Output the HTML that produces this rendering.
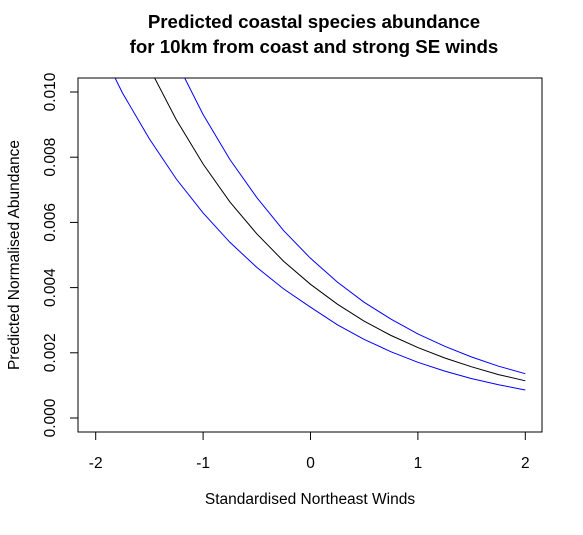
<!DOCTYPE html>
<html><head><meta charset="utf-8"><style>
body{margin:0;background:#fff}
svg text{font-family:"Liberation Sans",Arial,sans-serif}
</style></head><body>
<svg width="583" height="530" viewBox="0 0 583 530">
<defs><clipPath id="pc"><rect x="78" y="78" width="464" height="354"/></clipPath></defs>
<text x="314" y="28" text-anchor="middle" font-size="18.7" font-weight="bold">Predicted coastal species abundance</text>
<text x="314" y="53" text-anchor="middle" font-size="18.7" font-weight="bold">for 10km from coast and strong SE winds</text>
<rect x="78" y="78" width="464" height="354" fill="none" stroke="#000" stroke-width="1"/>
<g id="axes"></g>
<g id="series" clip-path="url(#pc)"></g>
<text x="310" y="504" text-anchor="middle" font-size="15.5">Standardised Northeast Winds</text>
<text transform="translate(19,255) rotate(-90)" text-anchor="middle" font-size="15.5">Predicted Normalised Abundance</text>
<script>
const xs=[-2,-1.75,-1.5,-1.25,-1,-0.75,-0.5,-0.25,0,0.25,0.5,0.75,1,1.25,1.5,1.75,2];
const fit=[0.0148,0.0126,0.01074,0.00915,0.00779,0.00663,0.00565,0.00481,0.0041,0.00349,0.00297,0.00253,0.00216,0.00184,0.00157,0.00133,0.00114];
const upper=[0.0177,0.0151,0.0128,0.01094,0.00931,0.00793,0.00676,0.00575,0.0049,0.00417,0.00355,0.00303,0.00258,0.0022,0.00187,0.00159,0.00136];
const lower=[0.01163,0.00997,0.00856,0.00733,0.00629,0.00539,0.00462,0.00396,0.0034,0.00286,0.00241,0.00203,0.00171,0.00144,0.00121,0.00102,0.00086];
const xTicks=[-2,-1,0,1,2];
const yTicks=[0,0.002,0.004,0.006,0.008,0.010];
const yTickLabels=["0.000","0.002","0.004","0.006","0.008","0.010"];
const NS="http://www.w3.org/2000/svg";
function sx(v){return 310.5+v*107.4;}
function sy(v){return 418-v*32600;}
const ax=document.getElementById('axes');
function mk(t,a,p){const e=document.createElementNS(NS,t);for(const k in a)e.setAttribute(k,a[k]);p.appendChild(e);return e;}
xTicks.forEach(v=>{
 const l=mk('line',{x1:sx(v),x2:sx(v),y1:432,y2:440,stroke:'#000'},ax);
 
 
 const t=mk('text',{x:sx(v),y:468,'text-anchor':'middle','font-size':15.5},ax);t.textContent=String(v);
 
 
});
yTicks.forEach((v,i)=>{
 const l=mk('line',{x1:70,x2:78,y1:sy(v),y2:sy(v),stroke:'#000'},ax);
 
 
 const t=mk('text',{transform:`translate(55,${sy(v)}) rotate(-90)`,'text-anchor':'middle','font-size':15.5},ax);t.textContent=yTickLabels[i];
 
 
});
const sg=document.getElementById('series');
[[upper,'#0000ff','upper-ci-line'],[fit,'#000','fitted-line'],[lower,'#0000ff','lower-ci-line']].forEach(([arr,c,n])=>{
 const d=arr.map((v,i)=>(i?'L':'M')+sx(xs[i]).toFixed(1)+' '+sy(v).toFixed(1)).join(' ');
 const p=mk('path',{d:d,fill:'none',stroke:c,'stroke-width':1},sg);
 
 
});
</script>
</svg>
</body></html>
